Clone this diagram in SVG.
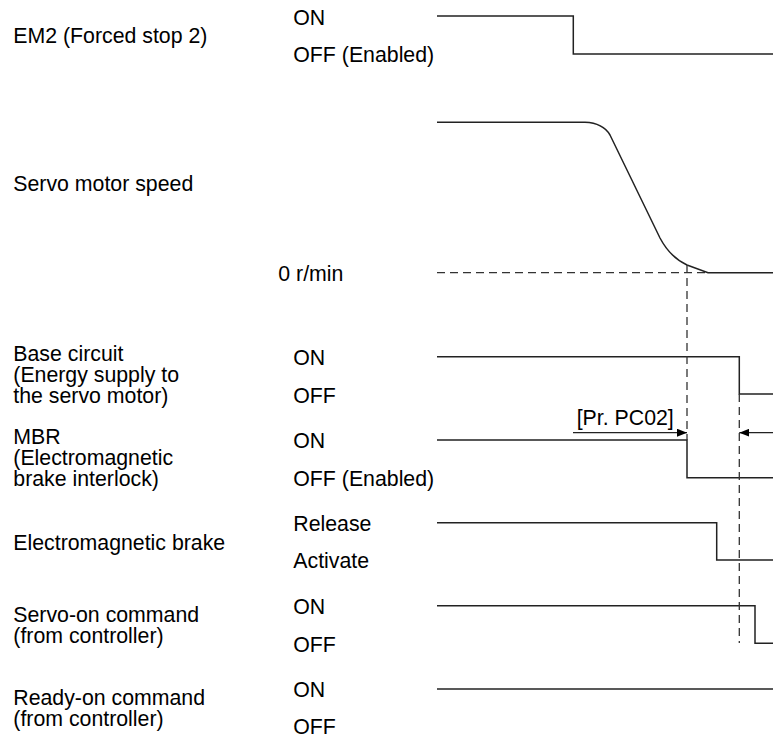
<svg xmlns="http://www.w3.org/2000/svg" width="773" height="738" viewBox="0 0 773 738">
<style>
text{font-family:"Liberation Sans",Arial,sans-serif;font-size:21.3px;fill:#000}
.w{fill:none;stroke:#222;stroke-width:1.5}
.d{fill:none;stroke:#333;stroke-width:1.3;stroke-dasharray:8,5}
.a{fill:none;stroke:#222;stroke-width:1.2}
</style>
<defs>
<marker id="ah" viewBox="0 0 10 8" refX="10" refY="4" markerWidth="10" markerHeight="8" markerUnits="userSpaceOnUse" orient="auto">
<path d="M0,0 L10,4 L0,8 Z" fill="#000"/>
</marker>
</defs>
<rect width="773" height="738" fill="#fff"/>
<g id="em2">
<text x="13.3" y="43.3">EM2 (Forced stop 2)</text>
<text x="293.3" y="25">ON</text>
<text x="293.3" y="61.7">OFF (Enabled)</text>
<path class="w" d="M437,16 H573.3 V54 H773"/>
</g>
<g id="speed">
<text x="13.3" y="191">Servo motor speed</text>
<text x="278.3" y="281">0 r/min</text>
<path class="d" d="M437,272.7 H708" stroke-dasharray="8,6"/>
<path class="w" d="M437,122.3 L585,122.3 Q603,123 610,135 L660,238 Q670,257 687,265 L708,272.7 L773,272.7"/>
</g>
<g id="base">
<text x="13.3" y="360.7">Base circuit</text>
<text x="13.3" y="381.7">(Energy supply to</text>
<text x="13.3" y="402.7">the servo motor)</text>
<text x="293.3" y="365">ON</text>
<text x="293.3" y="403.3">OFF</text>
<path class="w" d="M437,356.7 H739.3 V394 H773"/>
</g>
<g id="mbr">
<text x="13.3" y="444">MBR</text>
<text x="13.3" y="465">(Electromagnetic</text>
<text x="13.3" y="486">brake interlock)</text>
<text x="293.3" y="448.3">ON</text>
<text x="293.3" y="486">OFF (Enabled)</text>
<path class="w" d="M437,440 H687 V477.7 H773"/>
</g>
<g id="brake">
<text x="13.3" y="550">Electromagnetic brake</text>
<text x="293.3" y="531">Release</text>
<text x="293.3" y="568.3">Activate</text>
<path class="w" d="M437,522.7 H716.7 V560 H773"/>
</g>
<g id="servo-on">
<text x="13.3" y="622.3">Servo-on command</text>
<text x="13.3" y="643.3">(from controller)</text>
<text x="293.3" y="614">ON</text>
<text x="293.3" y="651.7">OFF</text>
<path class="w" d="M437,605.7 H755 V643.3 H773"/>
</g>
<g id="ready-on">
<text x="13.3" y="705">Ready-on command</text>
<text x="13.3" y="725.7">(from controller)</text>
<text x="293.3" y="696.7">ON</text>
<text x="293.3" y="734.3">OFF</text>
<path class="w" d="M437,689 H773"/>
</g>
<g id="connectors">
<path class="d" d="M687,265 V440"/>
<path class="d" d="M739.3,394 V643"/>
<path class="a" d="M573,432.7 H687" marker-end="url(#ah)"/>
<path class="a" d="M773,432.7 H739.3" marker-end="url(#ah)"/>
<text x="576.7" y="425">[Pr. PC02]</text>
</g>
</svg>
